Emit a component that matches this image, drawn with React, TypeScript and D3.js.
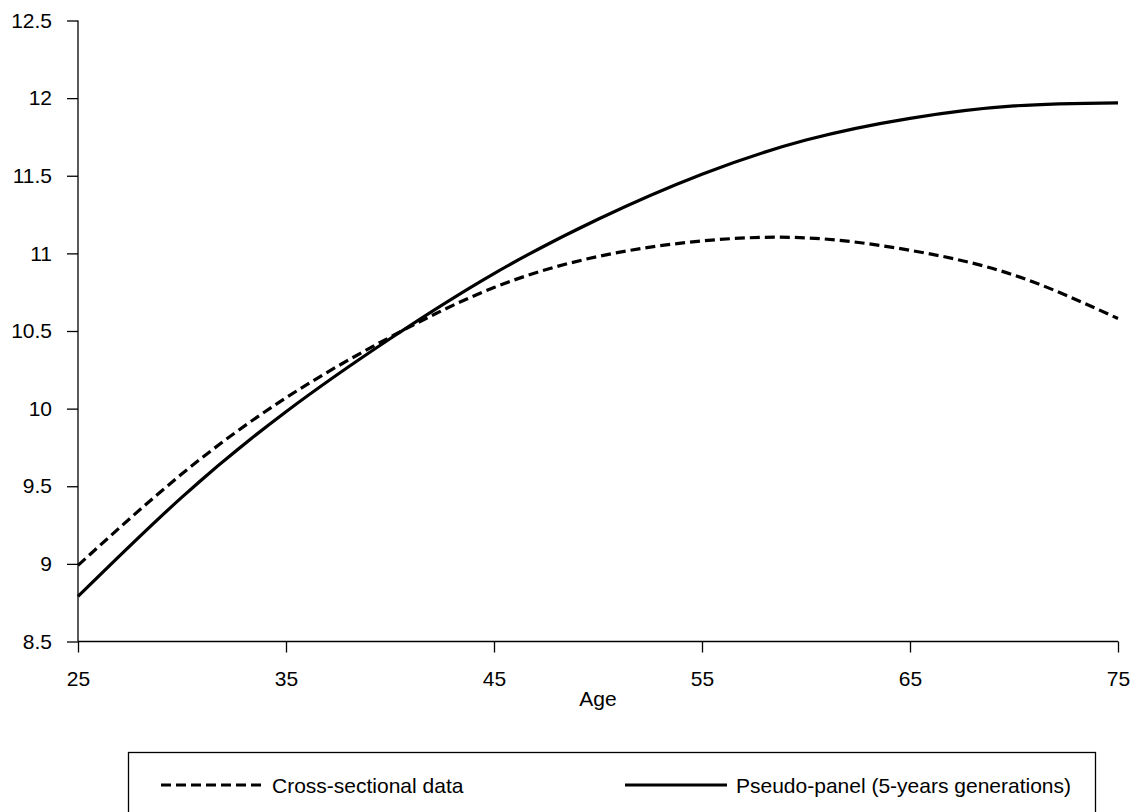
import * as d3 from "d3";
import { useEffect, useRef } from "react";

const ages = [25, 30, 35, 40, 45, 50, 55, 60, 65, 70, 75];
const crossSectional = [8.99, 9.58, 10.07, 10.46, 10.78, 10.98, 11.08, 11.1, 11.02, 10.86, 10.58];
const pseudoPanel = [8.79, 9.43, 9.98, 10.45, 10.87, 11.22, 11.51, 11.73, 11.87, 11.95, 11.97];
const xTicks = [25, 35, 45, 55, 65, 75];
const yTicks = [8.5, 9, 9.5, 10, 10.5, 11, 11.5, 12, 12.5];
const seriesNames = ["Cross-sectional data", "Pseudo-panel (5-years generations)"];

export default function App() {
  const ref = useRef<SVGSVGElement | null>(null);

  useEffect(() => {
    document.body.style.margin = "0";
    const svg = d3.select(ref.current);
    svg.selectAll("*").remove();

    const width = 1132;
    const height = 812;
    const font = "'Liberation Sans', Arial, Helvetica, sans-serif";

    const x = d3.scaleLinear().domain([25, 75]).range([78, 1118]);
    const y = d3.scaleLinear().domain([8.5, 12.5]).range([641.5, 20.5]);

    svg.attr("width", width).attr("height", height).style("font-family", font);

    svg
      .append("rect")
      .attr("width", width)
      .attr("height", height)
      .attr("fill", "white");

    // axes
    const yAxis = svg
      .append("g")
      .attr("transform", `translate(${x(25)},0)`)
      .call(d3.axisLeft(y).tickValues(yTicks).tickSize(11).tickPadding(15).tickFormat((d) => `${d}`));
    const xAxis = svg
      .append("g")
      .attr("transform", `translate(0,${y(8.5)})`)
      .call(d3.axisBottom(x).tickValues(xTicks).tickSize(11).tickPadding(19).tickFormat((d) => `${d}`));

    [yAxis, xAxis].forEach((g) => {
      g.selectAll("path.domain").attr("stroke", "#000").attr("stroke-width", 1.3);
      g.selectAll("line").attr("stroke", "#000").attr("stroke-width", 1.3);
      g.selectAll("text")
        .attr("fill", "#000")
        .style("font-size", "21px")
        .style("font-family", font);
    });
    // plain domain lines, no outer stubs
    yAxis.select("path.domain").attr("d", `M0,${y(12.5)}V${y(8.5)}`);
    xAxis.select("path.domain").attr("d", `M${x(25)},0H${x(75)}`);

    svg
      .append("text")
      .attr("x", (x(25) + x(75)) / 2)
      .attr("y", 706)
      .attr("text-anchor", "middle")
      .style("font-size", "21px")
      .text("Age");

    const line = (vals: number[]) =>
      d3
        .line<number>()
        .x((_, i) => x(ages[i]))
        .y((d) => y(d))
        .curve(d3.curveNatural)(vals) || "";

    svg
      .append("path")
      .attr("d", line(crossSectional))
      .attr("fill", "none")
      .attr("stroke", "#000")
      .attr("stroke-width", 3.2)
      .attr("stroke-dasharray", "10,5");

    svg
      .append("path")
      .attr("d", line(pseudoPanel))
      .attr("fill", "none")
      .attr("stroke", "#000")
      .attr("stroke-width", 3.2);

    // legend
    const legend = svg.append("g");
    legend
      .append("rect")
      .attr("x", 128.5)
      .attr("y", 752.5)
      .attr("width", 967)
      .attr("height", 70)
      .attr("fill", "none")
      .attr("stroke", "#000")
      .attr("stroke-width", 1.3);

    const items = [
      { name: seriesNames[0], x0: 161, dash: "10,5" },
      { name: seriesNames[1], x0: 625, dash: null },
    ];
    items.forEach((it) => {
      legend
        .append("line")
        .attr("x1", it.x0)
        .attr("x2", it.x0 + 102)
        .attr("y1", 785)
        .attr("y2", 785)
        .attr("stroke", "#000")
        .attr("stroke-width", 3.2)
        .attr("stroke-dasharray", it.dash);
      legend
        .append("text")
        .attr("x", it.x0 + 111)
        .attr("y", 792.5)
        .style("font-size", "21px")
        .text(it.name);
    });
  }, []);

  return <svg ref={ref}></svg>;
}
